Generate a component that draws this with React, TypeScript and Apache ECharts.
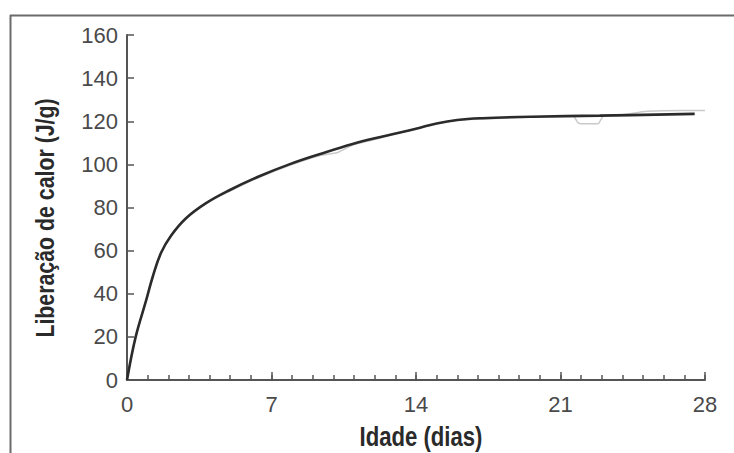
import React, { useEffect, useRef } from "react";
import * as echarts from "echarts";

const xTicks = [0, 7, 14, 21, 28];
const yTicks = [0, 20, 40, 60, 80, 100, 120, 140, 160];

const fitDays = [0, 0.42, 0.93, 1.25, 1.65, 2.14, 2.86, 3.83, 4.96, 6.41, 7.86, 9.32, 10.93, 12.55, 14, 15, 16, 17.2, 19.6, 22.9, 27.5];
const fitValues = [0, 20, 37, 48, 59, 67, 75, 82, 88, 94.5, 100, 104.7, 109.5, 113.3, 116.5, 119, 120.6, 121.4, 122.1, 122.6, 123.4];

const measDays = [0, 0.42, 0.93, 1.25, 1.65, 2.14, 2.86, 3.83, 4.96, 6.41, 7.86, 9.32, 10.2, 10.93, 12.0, 12.55, 14, 15, 16, 17.2, 18.5, 19.6, 21.0, 21.6, 21.9, 22.8, 23.1, 24.0, 25.2, 27.0, 28.0];
const measValues = [0, 20, 37, 48, 59, 67, 75, 82, 87.5, 94, 99.5, 104, 105.5, 109, 111.5, 113, 116.5, 119, 120.5, 121, 121.5, 122, 122.3, 122.4, 119, 118.8, 122.6, 123, 124.6, 125, 125];

const xTitle = "Idade (dias)";
const yTitle = "Liberação de calor (J/g)";

export default function App() {
  const ref = useRef<HTMLDivElement>(null);
  useEffect(() => {
    if (!ref.current) return;
    const chart = echarts.init(ref.current, null, { renderer: "svg" });
    const labelFont = "'Liberation Sans', Arial, sans-serif";
    const titleFont = "bold 27px 'Liberation Sans', Arial, sans-serif";
    const axisColor = "#555";
    chart.setOption({
      animation: false,
      backgroundColor: "#ffffff",
      grid: { left: 127, right: 29, top: 35, bottom: 73, containLabel: false },
      xAxis: [
        {
          type: "value",
          min: xTicks[0],
          max: xTicks[xTicks.length - 1],
          interval: 7,
          axisLine: { show: true, lineStyle: { color: axisColor, width: 2 } },
          axisTick: { show: true, length: -8, lineStyle: { color: axisColor, width: 1.5 } },
          splitLine: { show: false },
          axisLabel: { fontFamily: labelFont, fontSize: 22, color: "#4a4a4a", margin: 13 },
        },
        {
          type: "value",
          min: 0,
          max: 28,
          interval: 1,
          position: "bottom",
          axisLine: { show: false },
          axisTick: { show: true, length: -5, lineStyle: { color: axisColor, width: 1.5 } },
          splitLine: { show: false },
          axisLabel: { show: false },
        },
      ],
      yAxis: {
        type: "value",
        min: yTicks[0],
        max: yTicks[yTicks.length - 1],
        interval: 20,
        axisLine: { show: true, lineStyle: { color: axisColor, width: 2 } },
        axisTick: { show: true, length: -7, lineStyle: { color: axisColor, width: 1.5 } },
        splitLine: { show: false },
        axisLabel: { fontFamily: labelFont, fontSize: 22, color: "#4a4a4a", margin: 9 },
      },
      graphic: [
        { type: "line", shape: { x1: 10, y1: 15.5, x2: 734, y2: 15.5 }, style: { stroke: "#6b6b6b", lineWidth: 2 } },
        { type: "line", shape: { x1: 10.5, y1: 15, x2: 10.5, y2: 453 }, style: { stroke: "#6b6b6b", lineWidth: 2 } },
        {
          type: "text",
          x: 421,
          y: 437,
          scaleX: 0.82,
          style: { text: xTitle, font: titleFont, fill: "#2a2a2a", textAlign: "center", textVerticalAlign: "middle" },
        },
        {
          type: "text",
          x: 45,
          y: 218,
          rotation: Math.PI / 2,
          scaleX: 0.82,
          style: { text: yTitle, font: "bold 26px 'Liberation Sans', Arial, sans-serif", fill: "#2a2a2a", textAlign: "center", textVerticalAlign: "middle" },
        },
      ],
      series: [
        {
          type: "line",
          xAxisIndex: 0,
          data: measDays.map((d, i) => [d, measValues[i]]),
          showSymbol: false,
          smooth: 0.25,
          lineStyle: { color: "#c9c9c9", width: 1.5 },
          z: 2,
        },
        {
          type: "line",
          xAxisIndex: 0,
          data: fitDays.map((d, i) => [d, fitValues[i]]),
          showSymbol: false,
          smooth: 0.4,
          lineStyle: { color: "#2b2b2b", width: 2.6 },
          z: 3,
        },
      ],
    });
    return () => chart.dispose();
  }, []);
  return <div ref={ref} style={{ position: "fixed", left: 0, top: 0, width: 734, height: 453 }} />;
}
